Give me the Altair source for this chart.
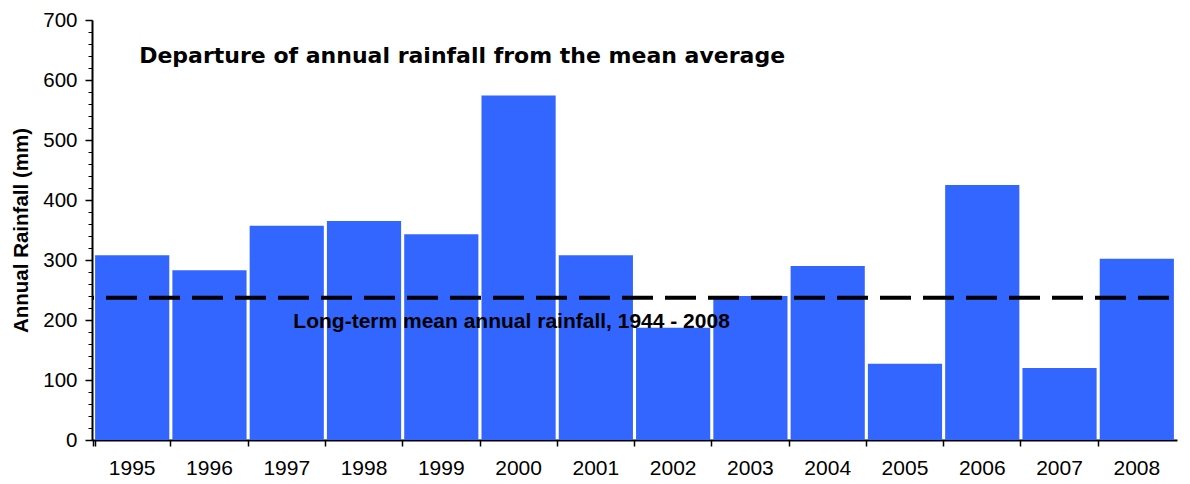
import altair as alt
import pandas as pd

years = ["1995", "1996", "1997", "1998", "1999", "2000", "2001",
         "2002", "2003", "2004", "2005", "2006", "2007", "2008"]
rainfall = [308, 283, 357, 365, 343, 574, 308, 187, 240, 290, 127, 425, 120, 302]
long_term_mean = 237
title_text = "Departure of annual rainfall from the mean average"
mean_label = "Long-term mean annual rainfall, 1944 - 2008"
major_ticks = list(range(0, 701, 100))
minor_ticks = list(range(0, 701, 20))

df = pd.DataFrame({"year": years, "rain": rainfall})
mean_df = pd.DataFrame({"mean": [long_term_mean]})
title_df = pd.DataFrame({"year": [years[0]], "y": [640], "t": [title_text]})
label_df = pd.DataFrame({"year": ["2000"], "y": [197], "t": [mean_label]})

FONT = "Liberation Sans"

xscale = alt.Scale(domain=years, paddingInner=0.04, paddingOuter=0.04)
yscale = alt.Scale(domain=[0, 700], nice=False)

bars = alt.Chart(df).mark_bar(color="#3366FF").encode(
    x=alt.X("year:N", scale=xscale, sort=years,
            axis=alt.Axis(title=None, labelAngle=0, bandPosition=-0.02, tickExtra=True,
                          labelFontSize=21, labelFont=FONT,
                          labelColor="black", labelPadding=11, tickSize=6,
                          tickColor="black", domainColor="black", domainWidth=2,
                          tickWidth=1.5)),
    y=alt.Y("rain:Q", scale=yscale,
            axis=alt.Axis(title="Annual Rainfall (mm)", values=major_ticks,
                          titleFont=FONT, titleFontSize=20.5, titleFontWeight="bold",
                          titleColor="black", titlePadding=11,
                          labelFont=FONT, labelFontSize=20.5, labelColor="black",
                          labelPadding=8, tickSize=7, tickColor="black",
                          tickWidth=1.5, domainColor="black", domainWidth=2)),
)

title_mark = alt.Chart(title_df).mark_text(
    align="left", baseline="middle", dx=7, font="DejaVu Sans", fontSize=22,
    fontWeight="bold", color="black"
).encode(x=alt.X("year:N", scale=xscale, sort=years),
         y=alt.Y("y:Q", scale=yscale), text="t:N")

label_mark = alt.Chart(label_df).mark_text(
    align="center", baseline="middle", dx=-7, font=FONT, fontSize=21,
    fontWeight="bold", color="black"
).encode(x=alt.X("year:N", scale=xscale, sort=years),
         y=alt.Y("y:Q", scale=yscale), text="t:N")

main = alt.layer(bars, label_mark, title_mark)

mean_rule = alt.Chart(mean_df).mark_rule(
    color="black", strokeWidth=4, strokeDash=[31, 12], strokeDashOffset=-8
).encode(
    y=alt.Y("mean:Q", scale=yscale,
            axis=alt.Axis(orient="left", title=None, values=minor_ticks,
                          labels=False, tickSize=4, tickColor="black",
                          tickWidth=1, domain=False)),
)

chart = alt.layer(main, mean_rule).resolve_axis(
    y="independent"
).properties(
    width=1085, height=420,
    padding={"left": 3, "top": 2, "right": 0, "bottom": 0},
).configure_view(stroke=None).configure_axis(grid=False)

chart.save("out.html", embed_options={"renderer": "svg", "actions": False})
